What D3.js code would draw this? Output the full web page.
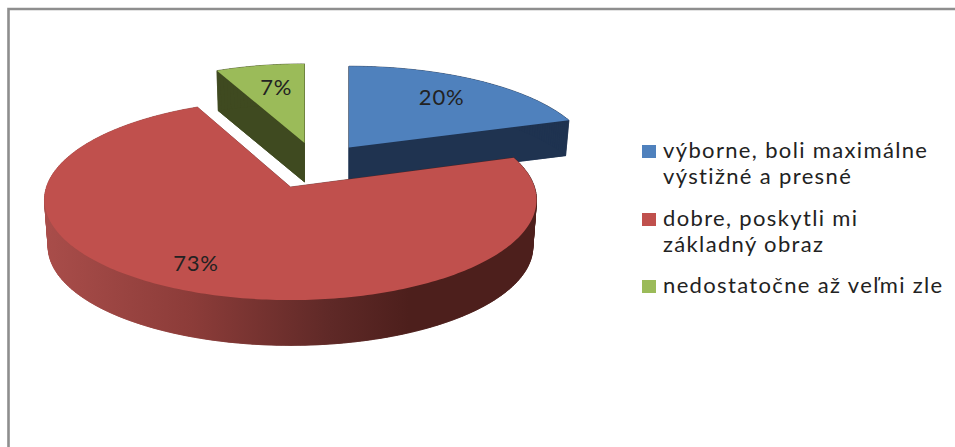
<!DOCTYPE html>
<html>
<head>
<meta charset="utf-8">
<script src="https://cdn.jsdelivr.net/npm/d3@7"></script>
<style>
  html, body { margin: 0; padding: 0; background: #fff; }
  svg { display: block; }
  text { font-family: Lato, "Open Sans", sans-serif; fill: #222; }
</style>
</head>
<body>
<svg id="chart" width="955" height="447"></svg>
<script>
// Answer shares for the 3D exploded pie
const categories = ["výborne, boli maximálne výstižné a presné", "dobre, poskytli mi základný obraz", "nedostatočne až veľmi zle"];
const shares = [20, 73, 7];
const legendLines = [["výborne, boli maximálne", "výstižné a presné"], ["dobre, poskytli mi", "základný obraz"], ["nedostatočne až veľmi zle"]];
const topColors = ["#4f81bd", "#c0504d", "#9bbb59"];
const wallColors = ["#1f3350", "url(#rimRed)", "#3f4a20"];

// Placement of each exploded wedge: apex, foreshortening, wall height, label radius and nudge
const wedgeLayout = [
  { cx: 349, cy: 147.5, sx: 0.985, sy: 0.93, depth: 35, label: 0.72, nudge: [-2, 0] },
  { cx: 290.5, cy: 187, sx: 1, sy: 1, depth: 47, label: 0.80, nudge: [-9, -3] },
  { cx: 304.5, cy: 143, sx: 0.94, sy: 0.905, depth: 39, label: 0.68, nudge: [3, 0] }
];
const legendRows = [{ box: 145, base: [158, 184] }, { box: 213, base: [226, 252] }, { box: 280, base: [293] }];

const svg = d3.select("#chart");

const grad = svg.append("defs").append("linearGradient")
  .attr("id", "rimRed").attr("gradientUnits", "userSpaceOnUse")
  .attr("x1", 44).attr("x2", 537).attr("y1", 0).attr("y2", 0);
[[0, "#a94d4a"], [0.3, "#8c3c39"], [0.58, "#5f2927"], [0.74, "#4d1f1c"], [1, "#4d1f1c"]]
  .forEach(([o, c]) => grad.append("stop").attr("offset", o).attr("stop-color", c));

// Frame: only its top and left edges fall inside the image
svg.append("path").attr("d", "M955,9H8.5V447")
  .attr("fill", "none").attr("stroke", "#8e8e8e").attr("stroke-width", 2.6);

// Perspective projection of the pie plane onto the page
const A = 244, B = 98.6, K = 0.128, BOTTOM_SCALE = 0.985;
function project(w, angle, r, lower) {
  const X = r * Math.sin(angle), Y = r * Math.cos(angle), q = 1 + K * Y;
  const s = lower ? BOTTOM_SCALE : 1;
  return [w.cx + s * w.sx * A * X / q, w.cy + (lower ? w.depth : 0) - s * w.sy * B * Y / q];
}

const arcs = d3.pie().sort(null).value(d => d)(shares);
const line = d3.line();
const STEP = Math.PI / 180;

function rimAngles(a) {
  const n = Math.max(2, Math.ceil((a.endAngle - a.startAngle) / STEP));
  return d3.range(n + 1).map(i => a.startAngle + (a.endAngle - a.startAngle) * i / n);
}

// Painter's order: rear wedges first, the large wedge over them
const order = [0, 2, 1];
order.forEach(i => {
  const a = arcs[i], w = wedgeLayout[i], angles = rimAngles(a);
  const g = svg.append("g");
  const wall = wallColors[i];
  const rimTop = angles.map(t => project(w, t, 1, false));
  const rimLow = angles.map(t => project(w, t, 1, true));
  const apexTop = project(w, 0, 0, false), apexLow = project(w, 0, 0, true);
  const solid = pts => g.append("path").attr("d", line(pts) + "Z")
    .attr("fill", wall).attr("stroke", wall).attr("stroke-width", 0.6);

  // Underside and the two cut faces
  solid([apexLow, ...rimLow]);
  solid([apexTop, rimTop[0], rimLow[0], apexLow]);
  solid([apexTop, rimTop[rimTop.length - 1], rimLow[rimLow.length - 1], apexLow]);
  // Outer wall, one facet per step so it never cancels itself where the rim folds back
  d3.range(rimTop.length - 1).forEach(k => {
    solid([rimTop[k], rimTop[k + 1], rimLow[k + 1], rimLow[k]]);
  });
  // Top face
  g.append("path").attr("d", line([apexTop, ...rimTop]) + "Z").attr("fill", topColors[i]);
});

// Percentage labels on the top faces
arcs.forEach((a, i) => {
  const w = wedgeLayout[i];
  const [x, y] = project(w, (a.startAngle + a.endAngle) / 2, w.label, false);
  svg.append("text").attr("x", x + w.nudge[0]).attr("y", y + w.nudge[1] + 7)
    .attr("text-anchor", "middle").attr("font-size", 22).attr("letter-spacing", 0.8)
    .text(d3.format("d")(a.data) + "%");
});

// Legend
categories.forEach((c, i) => {
  const row = legendRows[i];
  svg.append("rect").attr("x", 642).attr("y", row.box).attr("width", 14).attr("height", 13).attr("fill", topColors[i]);
  legendLines[i].forEach((t, j) => {
    svg.append("text").attr("x", 663).attr("y", row.base[j])
      .attr("font-size", 22).attr("letter-spacing", 1.35).text(t);
  });
});
</script>
</body>
</html>
